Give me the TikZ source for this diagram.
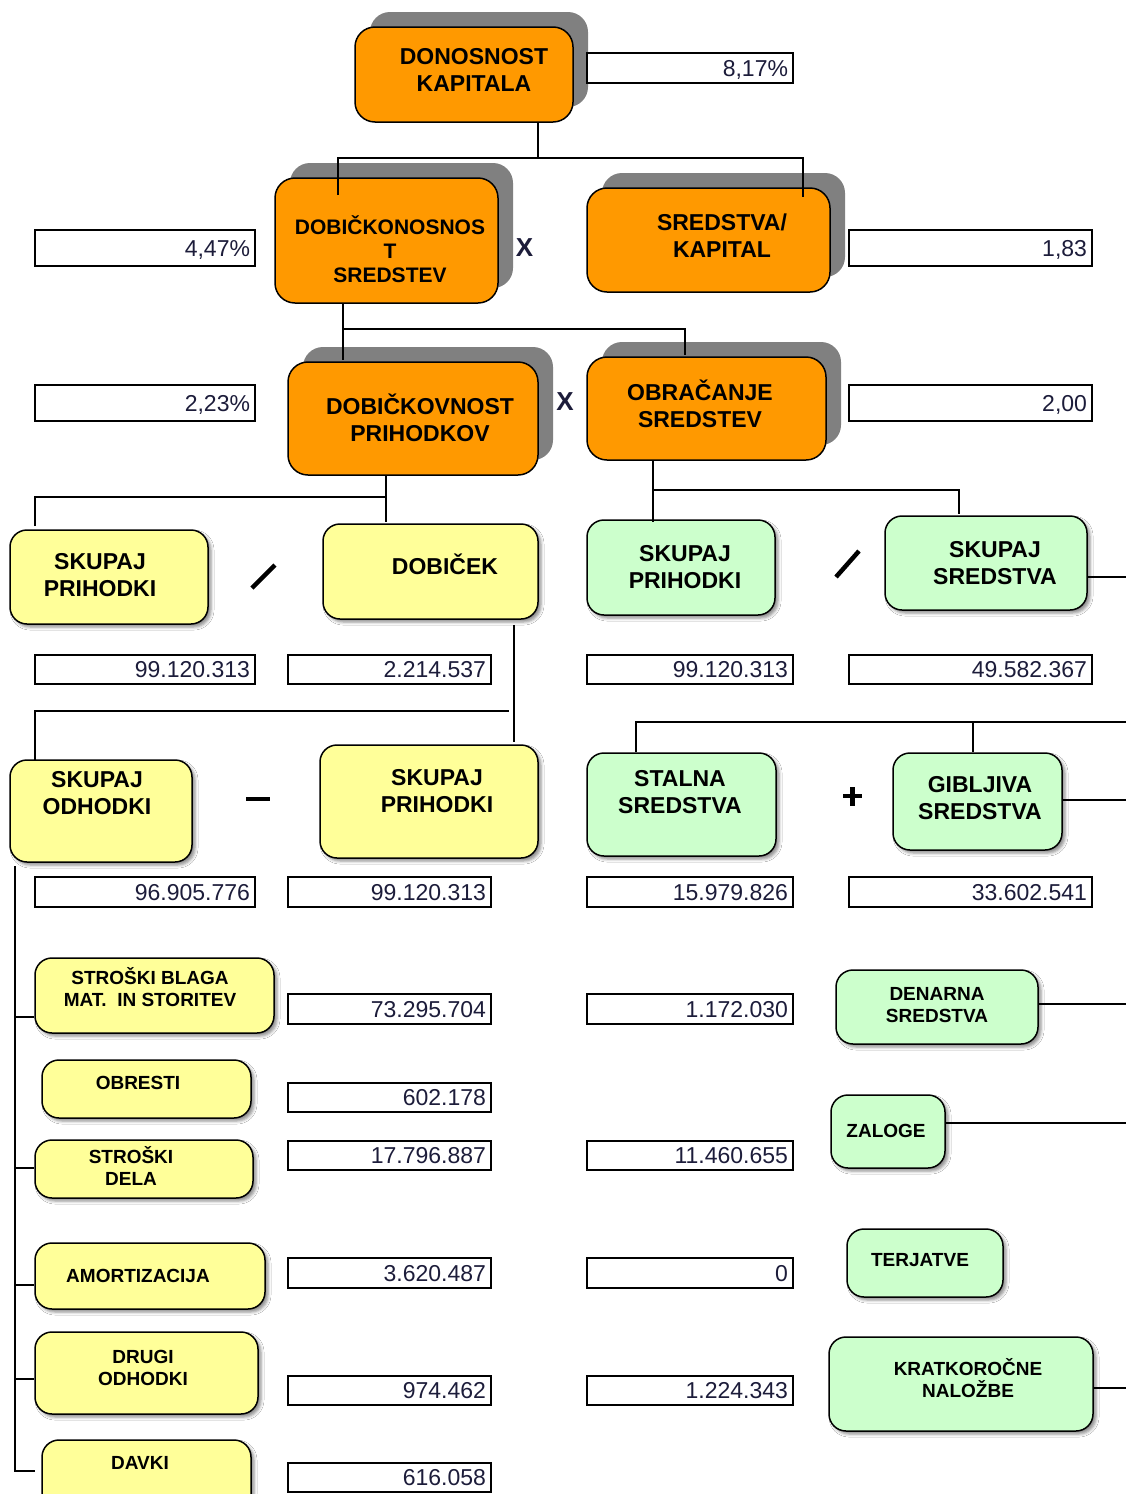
\documentclass[tikz,border=0pt]{standalone}
\usepackage{fontspec}
\setmainfont{Liberation Sans}
\usetikzlibrary{shadows,shadows.blur}
\definecolor{orng}{HTML}{FF9900}
\definecolor{ylw}{HTML}{FFFF99}
\definecolor{grn}{HTML}{CCFFCC}
\definecolor{shd}{HTML}{808080}
\definecolor{numc}{HTML}{1C1C3A}

\tikzset{
  ratio/.style={draw=black, line width=1.5pt, fill=orng, rounded corners=20pt, inner sep=0pt,
    drop shadow={shadow xshift=15pt, shadow yshift=15pt, fill=shd, opacity=1}},
  part/.style={draw=black, line width=1.5pt, rounded corners=17pt, inner sep=0pt,
    blur shadow={shadow xshift=3pt, shadow yshift=-3pt, shadow blur radius=3pt, shadow opacity=45}},
  ypart/.style={part, fill=ylw},
  gpart/.style={part, fill=grn},
  bigtxt/.style={font=\fontsize{23}{27}\selectfont\bfseries, align=center, inner sep=0pt},
  midtxt/.style={font=\fontsize{21}{24}\selectfont\bfseries, align=center, inner sep=0pt},
  smalltxt/.style={font=\fontsize{19}{22}\selectfont\bfseries, align=center, inner sep=0pt},
  optxt/.style={font=\fontsize{26}{30}\selectfont\bfseries, text=numc, inner sep=0pt,
    text height=18.6pt, text depth=0pt},
  valbox/.style={draw=black, line width=1.4pt, fill=white, inner sep=0pt,
    font=\fontsize{23}{27}\selectfont, text=numc, text height=16.5pt, text depth=0pt},
  conn/.style={line width=1.3pt, black},
  opsym/.style={line width=4.5pt, black},
}

% rounded box given by its corners (x1,y1)-(x2,y2)
\newcommand\partbox[6]{%
  \pgfmathsetmacro\boxw{#5-#3}\pgfmathsetmacro\boxh{#6-#4}%
  \node[#1, minimum width=\boxw pt, minimum height=\boxh pt] (#2) at ({(#3+#5)/2},{(#4+#6)/2}) {};}
% framed value, right aligned
\newcommand\valuebox[6]{%
  \pgfmathsetmacro\valw{#4-#2}\pgfmathsetmacro\valh{#5-#3}\pgfmathsetmacro\valt{#4-#2-10}%
  \node[valbox, minimum width=\valw pt, minimum height=\valh pt, text width=\valt pt, align=right]
    (#1) at ({(#2+#4)/2},{(#3+#5)/2}) {#6};}

\begin{document}
\begin{tikzpicture}[x=1pt,y=-1pt]
\useasboundingbox[fill=white] (0,0) rectangle (1126,1494);

% ratio boxes
\partbox{ratio}{dk}{355}{27}{573}{122}
\partbox{ratio}{dos}{275}{178}{498}{303}
\partbox{ratio}{sk}{587}{188}{830}{292}
\partbox{ratio}{dp}{288}{362}{538}{475}
\partbox{ratio}{os}{587}{357}{826}{460}

% components
\partbox{ypart}{sp1}{10}{530}{208}{624}
\partbox{ypart}{dob}{323}{524}{538}{619}
\partbox{gpart}{sp2}{587}{520}{775}{615}
\partbox{gpart}{ss}{885}{516}{1087}{610}
\partbox{ypart}{so}{10}{760}{192}{862}
\partbox{ypart}{sp3}{320}{745}{538}{858}
\partbox{gpart}{stal}{587}{753}{776}{856}
\partbox{gpart}{gib}{893}{753}{1062}{850}

\partbox{ypart}{sb}{35}{958}{274}{1033}
\partbox{ypart}{obr}{42}{1060}{251}{1118}
\partbox{ypart}{sd}{35}{1140}{253}{1198}
\partbox{ypart}{am}{35}{1243}{265}{1309}
\partbox{ypart}{dr}{35}{1332}{258}{1414}
\partbox{ypart}{dav}{42}{1440}{251}{1512}
\partbox{gpart}{den}{836}{970}{1038}{1044}
\partbox{gpart}{zal}{831}{1095}{945}{1168}
\partbox{gpart}{ter}{847}{1229}{1003}{1297}
\partbox{gpart}{kn}{829}{1337}{1093}{1431}

% labels
\node[bigtxt] (t-dk) at (474,69.5) {DONOSNOST\\KAPITALA};
\node[midtxt] (t-dos) at (390,249) {DOBIČKONOSNOS\\T\\SREDSTEV};
\node[bigtxt] (t-sk) at (722,236) {SREDSTVA/\\KAPITAL};
\node[bigtxt] (t-dp) at (420,417.5) {DOBIČKOVNOST\\PRIHODKOV};
\node[bigtxt] (t-os) at (700,403.5) {OBRAČANJE\\SREDSTEV};
\node[bigtxt] (t-sp1) at (100,575.5) {SKUPAJ\\PRIHODKI};
\node[bigtxt, text height=16.5pt, text depth=0pt] (t-dob) at (445,566) {DOBIČEK};
\node[bigtxt] (t-sp2) at (685,567.5) {SKUPAJ\\PRIHODKI};
\node[bigtxt] (t-ss) at (995,563.5) {SKUPAJ\\SREDSTVA};
\node[bigtxt] (t-so) at (97,793.5) {SKUPAJ\\ODHODKI};
\node[bigtxt] (t-sp3) at (437,791.5) {SKUPAJ\\PRIHODKI};
\node[bigtxt] (t-stal) at (680,792.5) {STALNA\\SREDSTVA};
\node[bigtxt] (t-gib) at (980,798.5) {GIBLJIVA\\SREDSTVA};

\node[smalltxt] (t-sb) at (150,987.5) {STROŠKI BLAGA\\MAT.~~IN STORITEV};
\node[smalltxt] (t-obr) at (138,1083) {OBRESTI};
\node[smalltxt] (t-sd) at (131,1165.5) {STROŠKI\\DELA};
\node[smalltxt] (t-am) at (138,1276) {AMORTIZACIJA};
\node[smalltxt] (t-dr) at (143,1368) {DRUGI\\ODHODKI};
\node[smalltxt] (t-dav) at (140,1463) {DAVKI};
\node[smalltxt] (t-den) at (937,1005) {DENARNA\\SREDSTVA};
\node[smalltxt] (t-zal) at (886,1131) {ZALOGE};
\node[smalltxt] (t-ter) at (920,1260) {TERJATVE};
\node[smalltxt] (t-kn) at (968,1378) {KRATKOROČNE\\NALOŽBE};

% values
\valuebox{v1}{587}{53}{793}{83}{8,17\%}
\valuebox{v2}{35}{230}{255}{266}{4,47\%}
\valuebox{v3}{849}{230}{1092}{266}{1,83}
\valuebox{v4}{35}{385}{255}{421}{2,23\%}
\valuebox{v5}{849}{385}{1092}{421}{2,00}
\valuebox{v6}{35}{655}{255}{684}{99.120.313}
\valuebox{v7}{288}{655}{491}{684}{2.214.537}
\valuebox{v8}{587}{655}{793}{684}{99.120.313}
\valuebox{v9}{849}{655}{1092}{684}{49.582.367}
\valuebox{v10}{35}{877}{255}{907}{96.905.776}
\valuebox{v11}{288}{877}{491}{907}{99.120.313}
\valuebox{v12}{587}{877}{793}{907}{15.979.826}
\valuebox{v13}{849}{877}{1092}{907}{33.602.541}
\valuebox{v14}{288}{994}{491}{1024}{73.295.704}
\valuebox{v15}{587}{994}{793}{1024}{1.172.030}
\valuebox{v16}{288}{1083}{491}{1112}{602.178}
\valuebox{v17}{288}{1141}{491}{1170}{17.796.887}
\valuebox{v18}{587}{1141}{793}{1170}{11.460.655}
\valuebox{v19}{288}{1258}{491}{1288}{3.620.487}
\valuebox{v20}{587}{1258}{793}{1288}{0}
\valuebox{v21}{288}{1376}{491}{1405}{974.462}
\valuebox{v22}{587}{1376}{793}{1405}{1.224.343}
\valuebox{v23}{288}{1463}{491}{1492}{616.058}

% tree connectors
\draw[conn] (dk.south -| 538,0) -- (538,158);
\draw[conn] (338,195) |- (803,158) -- (803,197);
\draw[conn] (dos.south -| 343,0) -- (343,360);
\draw[conn] (343,329) -| (685,355);
\draw[conn] (dp.south -| 386,0) -- (386,522);
\draw[conn] (35,526) |- (386,497);
\draw[conn] (os.south -| 653,0) -- (653,522);
\draw[conn] (653,490) -| (959,514);
\draw[conn] (dob.south -| 514,0) ++(0,5) -- (514,742);
\draw[conn] (35,760) |- (509,711);
\draw[conn] (636,752) |- (1126,722);
\draw[conn] (973,722) -- (973,752);

% outgoing stubs on the right
\draw[conn] (ss.east |- 0,577) -- (1126,577);
\draw[conn] (gib.east |- 0,800) -- (1126,800);
\draw[conn] (den.east |- 0,1004) -- (1126,1004);
\draw[conn] (zal.east |- 0,1123) -- (1126,1123);
\draw[conn] (kn.east |- 0,1388) -- (1126,1388);

% expense bracket
\draw[conn] (15,866) -- (15,1471) -- (35,1471);
\draw[conn] (15,1017) -- (sb.west |- 0,1017);
\draw[conn] (15,1168) -- (sd.west |- 0,1168);
\draw[conn] (15,1285) -- (am.west |- 0,1285);
\draw[conn] (15,1379) -- (dr.west |- 0,1379);

% operators
\node[optxt] (x1) at (524.5,247.5) {X};
\node[optxt] (x2) at (565,401.5) {X};
\draw[opsym] (252,588) -- (275,565);
\draw[opsym] (836,577) -- (859,551);
\draw[opsym] (246,799) -- (270,799);
\draw[line width=4.5pt] (843,796) -- (862,796) (852.5,787) -- (852.5,806);
\end{tikzpicture}
\end{document}
